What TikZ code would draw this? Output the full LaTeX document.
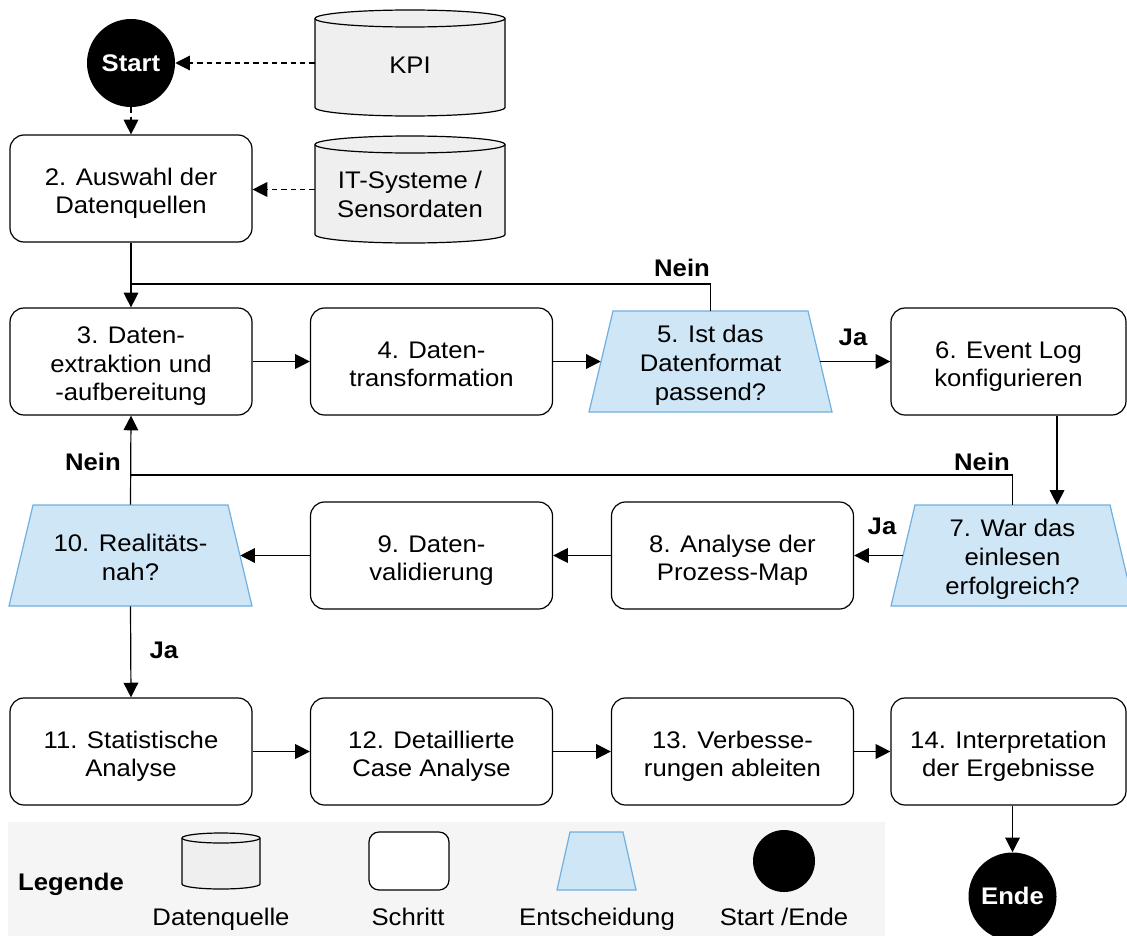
\documentclass[tikz,border=0pt]{standalone}
\usepackage{fontspec}
\setmainfont{Liberation Sans}[FakeStretch=1.07]
\usetikzlibrary{arrows.meta}

\definecolor{dbfill}{HTML}{EFEFEF}
\definecolor{decfill}{HTML}{CFE6F6}
\definecolor{decline}{HTML}{6FB0E0}
\definecolor{legbg}{HTML}{F5F5F5}

% line boxes: bottom of the last line, and head room above a first line
\newcommand\linebox{\rule[-4.6pt]{0pt}{21.6pt}}
\newcommand\hd[1]{\rule{0pt}{#1}}

\tikzset{
  every node/.style={font=\fontsize{18}{21.6}\selectfont, align=center, inner sep=0pt,
    execute at end node=\linebox},
  stepbox/.style={draw, fill=white, rounded corners=10.5pt, line width=0.9pt,
    minimum width=181.5pt, minimum height=80.25pt},
  decarea/.style={minimum width=164.25pt, minimum height=75.75pt},
  decshape/.style={draw=decline, fill=decfill, line width=0.9pt, line join=miter},
  terminal/.style={circle, fill=black, text=white,
    font=\fontsize{18}{21.6}\selectfont\bfseries, minimum size=66pt},
  dbarea/.style={minimum width=142.5pt, minimum height=80pt},
  lbl/.style={font=\fontsize{18}{21.6}\selectfont\bfseries},
  flow/.style={line width=0.9pt, -{Triangle[length=11pt,width=11pt]}},
  link/.style={line width=0.9pt},
  feed/.style={flow, dash pattern=on 4pt off 3pt},
  dbshape/.style={fill=dbfill, draw=black, line width=0.9pt},
}

% database cylinder: left, top, right, bottom (px), x radius (pt), y radius (px), y radius (pt)
\newcommand\dbcyl[7]{%
  \path[dbshape] (#1,#2+#6) -- (#1,#4-#6)
    arc[start angle=180, end angle=360, x radius=#5, y radius=#7]
    -- (#3,#2+#6)
    arc[start angle=0, end angle=180, x radius=#5, y radius=#7] -- cycle;
  \draw[line width=0.9pt] (#1,#2+#6)
    arc[start angle=180, end angle=360, x radius=#5, y radius=#7];
}

% decision trapezoid: centre x, centre y, half bottom width, half top width, half height (px)
\newcommand\decbody[5]{%
  \path[decshape] (#1-#3,#2+#5) -- (#1-#4,#2-#5) -- (#1+#4,#2-#5)
    -- (#1+#3,#2+#5) -- cycle;
}

\begin{document}
\begin{tikzpicture}[x=0.75pt, y=-0.75pt]
\useasboundingbox (0,0) rectangle (1127,935);
\clip (0,0) rectangle (1127,935);

% data sources
\dbcyl{315}{10}{505}{116}{71.25pt}{8.5}{6.375pt}
\dbcyl{315}{136}{505}{243}{71.25pt}{8.5}{6.375pt}
\node[dbarea] (kpi) at (410,63) {\hd{20pt}KPI};
\node[dbarea] (it) at (410,189.5) {\hd{25pt}IT-Systeme /\\Sensordaten};

% start
\node[terminal] (start) at (131,63) {Start};

% row 1
\node[stepbox] (b2) at (131,188.5) {\hd{21pt}2. Auswahl der\\Datenquellen};

% row 2
\node[stepbox] (b3) at (131,361.5) {\hd{20.5pt}3. Daten-\\extraktion und\\-aufbereitung};
\node[stepbox] (b4) at (431.5,361.5) {\hd{21pt}4. Daten-\\transformation};
\decbody{710.5}{361.5}{121.5}{97.5}{50.5}
\node[decarea] (d5) at (710.5,361.5) {\hd{19.5pt}5. Ist das\\Datenformat\\passend?};
\node[stepbox, minimum width=176.25pt] (b6) at (1008.5,361.5) {\hd{21pt}6. Event Log\\konfigurieren};

% row 3
\decbody{130.5}{555.5}{121.5}{97.5}{50.5}
\node[decarea] (d10) at (130.5,555.5) {\hd{20pt}10. Realitäts-\\nah?};
\node[stepbox] (b9) at (431.5,555.5) {\hd{21pt}9. Daten-\\validierung};
\node[stepbox] (b8) at (732.5,555.5) {\hd{21pt}8. Analyse der\\Prozess-Map};
\decbody{1012.5}{555.5}{121.5}{97.5}{50.5}
\node[decarea] (d7) at (1012.5,555.5) {\hd{19.5pt}7. War das\\einlesen\\erfolgreich?};

% row 4
\node[stepbox] (b11) at (131,751.5) {\hd{21pt}11. Statistische\\Analyse};
\node[stepbox] (b12) at (431.5,751.5) {\hd{21pt}12. Detaillierte\\Case Analyse};
\node[stepbox] (b13) at (732.5,751.5) {\hd{21pt}13. Verbesse-\\rungen ableiten};
\node[stepbox, minimum width=176.25pt] (b14) at (1008.5,751.5) {\hd{21pt}14. Interpretation\\der Ergebnisse};

% end
\node[terminal] (ende) at (1012.5,896.5) {Ende};

% junction points of the loop-back lines
\coordinate (j1) at (131,284);
\coordinate (j2) at (131,475);

% connectors
\draw[feed] (kpi.west) -- (start.east);
\draw[feed] (start.south) -- (b2.north);
\draw[feed] (it.west) -- (it.west -| b2.east);
\draw[flow] (b2.south) -- (b3.north);
\draw[link] (d5.north) |- (j1);
\draw[flow] (b3.east) -- (b4.west);
\draw[flow] (b4.east) -- (d5.west);
\draw[flow] (d5.east) -- (b6.west);
\draw[flow] ([xshift=36.4pt]b6.south) -- ([xshift=36.4pt]b6.south |- d7.north);
\draw[link] (d7.north) |- (j2);
\draw[flow] (d10.north) -- (b3.south);
\draw[flow] (d7.west) -- (b8.east);
\draw[flow] (b8.west) -- (b9.east);
\draw[flow] (b9.west) -- (d10.east);
\draw[flow] (d10.south) -- (b11.north);
\draw[flow] (b11.east) -- (b12.west);
\draw[flow] (b12.east) -- (b13.west);
\draw[flow] (b13.east) -- (b14.west);
\draw[flow] (b14.south -| ende.north) -- (ende.north);

% branch labels
\node[lbl] (n5) at (682,268) {Nein};
\node[lbl] (y5) at (853,337) {Ja};
\node[lbl] (n7) at (982,462) {Nein};
\node[lbl] (y7) at (882,526) {Ja};
\node[lbl] (n10) at (93,462) {Nein};
\node[lbl] (y10) at (164,650) {Ja};

% legend
\fill[legbg] (8,822) rectangle (885,940);
\node[lbl] (leg) at (71,882) {Legende};
\dbcyl{182}{833}{260}{889}{29.25pt}{5}{3.75pt}
\node[minimum width=58.5pt, minimum height=42pt] (lgdb) at (221,861) {};
\node[stepbox, rounded corners=7.5pt, minimum width=60pt, minimum height=43.5pt] (lgstep) at (409,861) {};
\decbody{596.5}{861}{39.5}{26.5}{29}
\node[minimum width=49.5pt, minimum height=43.5pt] (lgdec) at (596.5,861) {};
\node[terminal, minimum size=46.5pt] (lgse) at (784,861) {};
\node (tdb) at (221,917) {\hd{17pt}Datenquelle};
\node (tstep) at (408,917) {\hd{17pt}Schritt};
\node (tdec) at (597,917) {\hd{17pt}Entscheidung};
\node (tse) at (784,917) {\hd{17pt}Start /Ende};
\end{tikzpicture}
\end{document}
